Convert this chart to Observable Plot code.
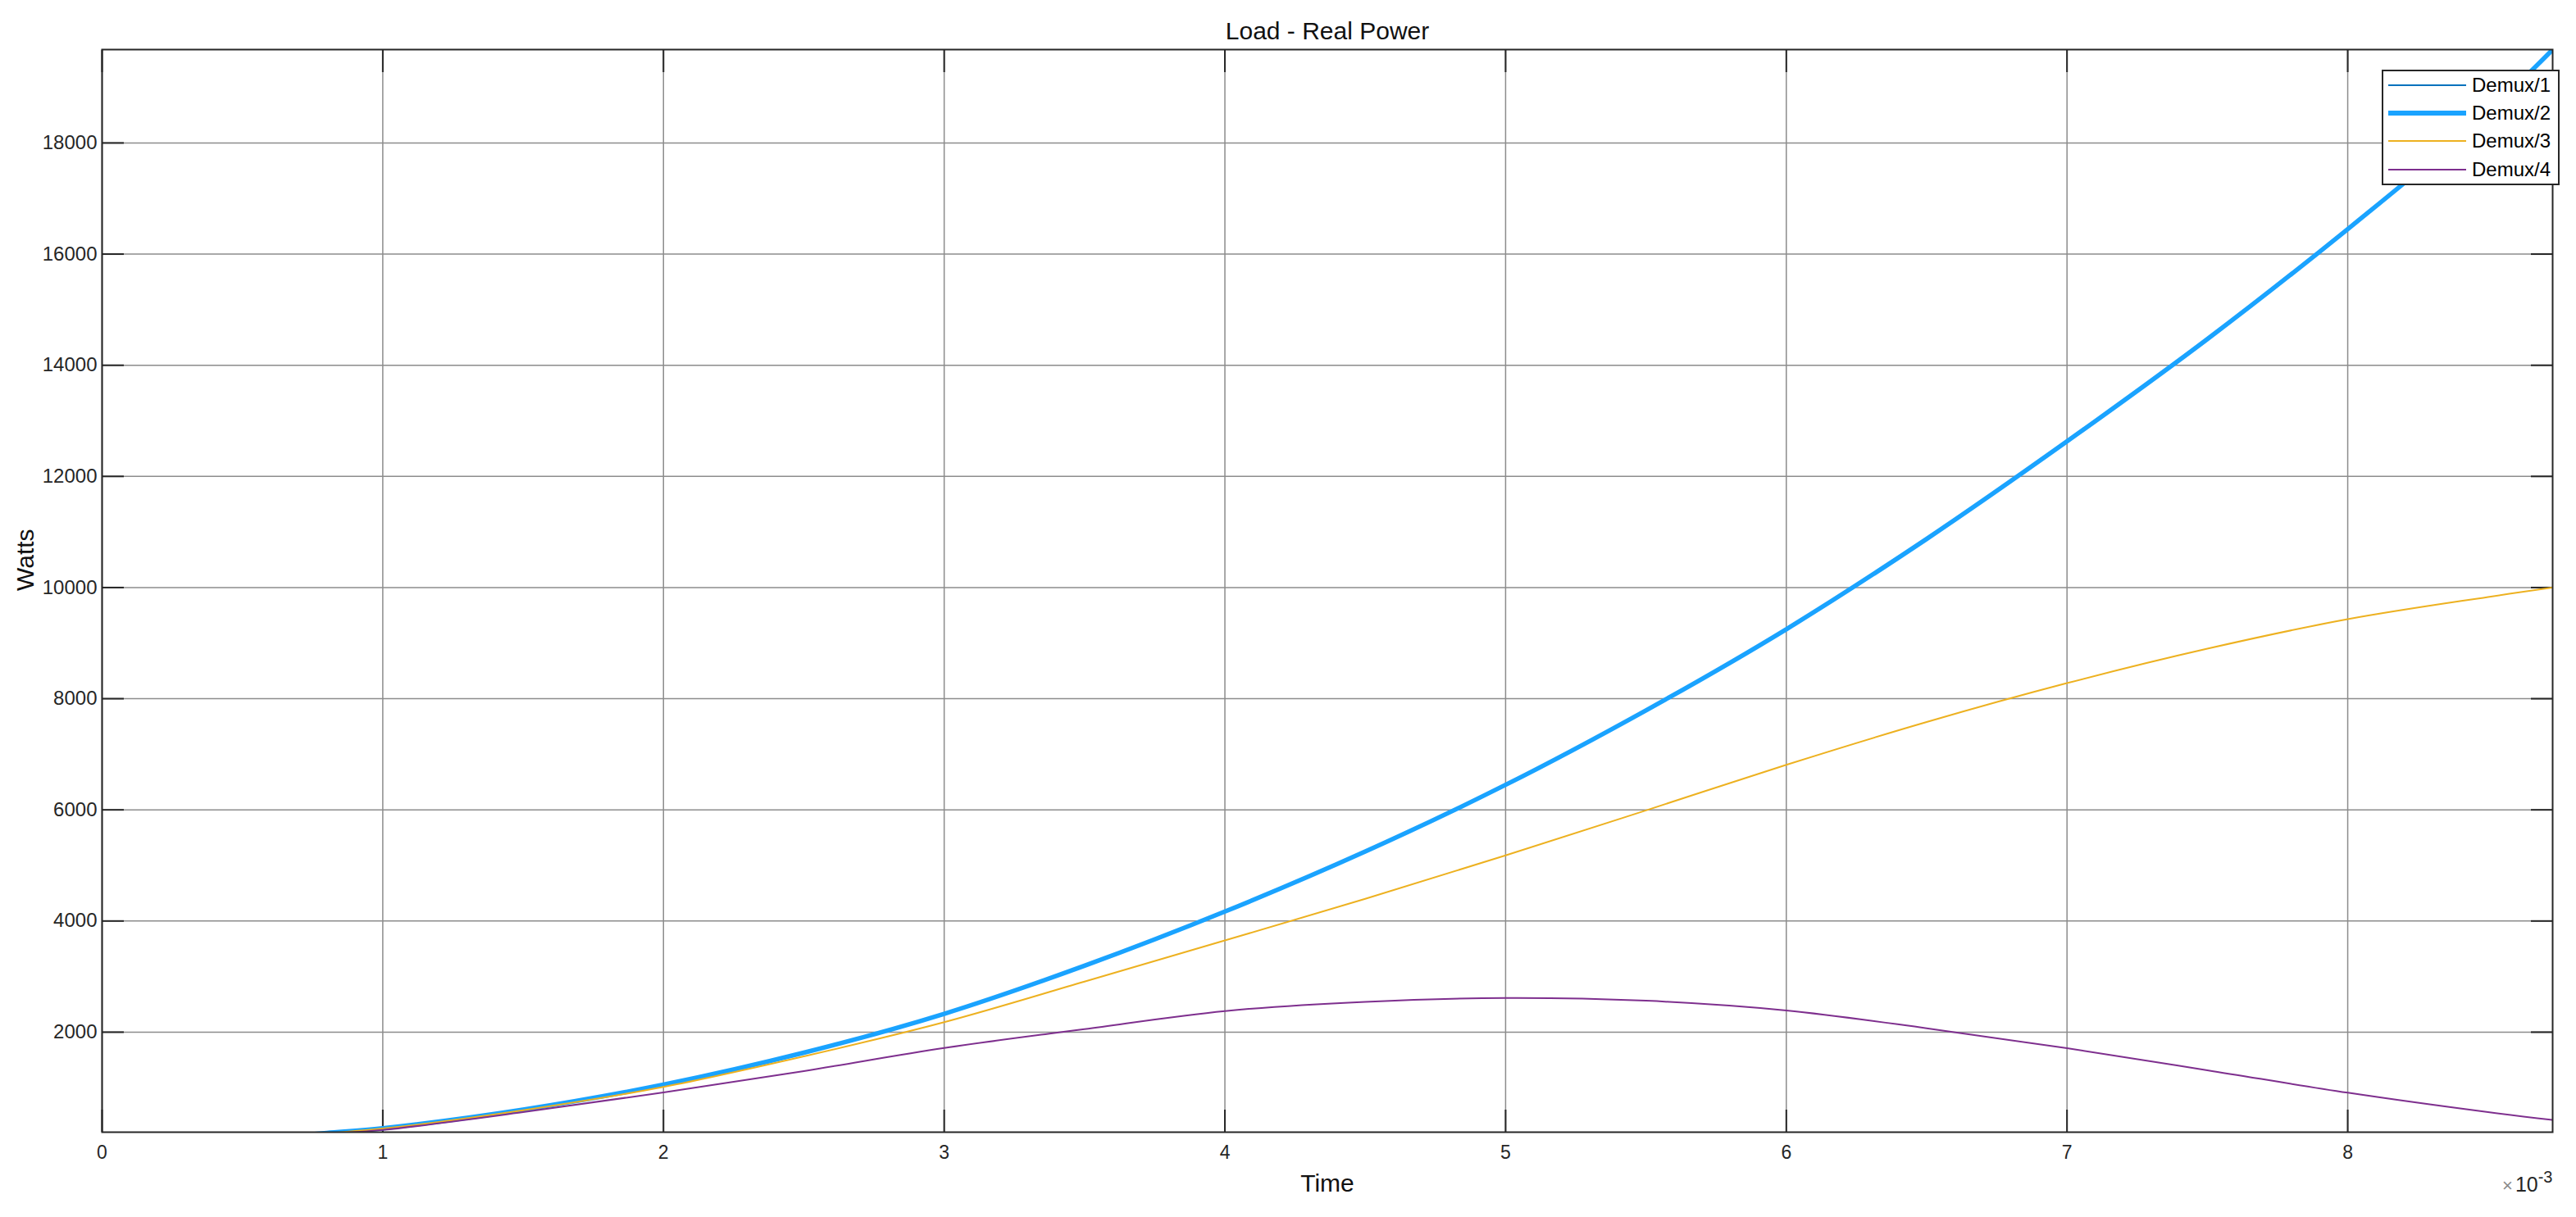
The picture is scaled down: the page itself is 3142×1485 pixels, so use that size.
<!DOCTYPE html>
<html>
<head>
<meta charset="utf-8">
<script src="https://cdn.jsdelivr.net/npm/d3@7"></script>
<script src="https://cdn.jsdelivr.net/npm/@observablehq/plot@0.6"></script>
<style>
  html, body { margin: 0; padding: 0; background: #fff; }
  #wrap { position: relative; width: 3142px; height: 1485px; font-family: "Liberation Sans", Arial, sans-serif; }
  #legend { position: absolute; left: 2905px; top: 85px; width: 217px; height: 141px; box-sizing: border-box;
            border: 2px solid #262626; background: #fff; }
  .row { position: absolute; left: 0; height: 34px; display: flex; align-items: center; }
  .swatch { margin-left: 6px; width: 95px; }
  .lbl { margin-left: 7px; font-size: 24px; color: #000; white-space: nowrap; }
</style>
</head>
<body>
<div id="wrap"><div id="legend"></div></div>
<script>
// ---- data (time in ms, i.e. axis units x10^-3 s; power in W) ----
const timeMs = [0.6, 0.8, 1, 1.5, 2, 2.5, 3, 3.5, 4, 4.5, 5, 5.5, 6, 6.5, 7, 7.5, 8, 8.5, 8.73];
const demux1 = [100, 185, 270, 605, 1055, 1630, 2330, 3195, 4170, 5250, 6450, 7790, 9250, 10875, 12630, 14470, 16450, 18560, 19680];
const demux2 = [100, 185, 270, 605, 1055, 1630, 2330, 3195, 4170, 5250, 6450, 7790, 9250, 10875, 12630, 14470, 16450, 18560, 19680];
const demux3 = [95, 180, 265, 595, 1015, 1565, 2180, 2910, 3650, 4400, 5180, 5990, 6810, 7580, 8280, 8900, 9430, 9830, 10000];
const demux4 = [90, 170, 240, 560, 915, 1300, 1715, 2055, 2380, 2545, 2615, 2565, 2390, 2070, 1710, 1315, 910, 560, 420];

const seriesNames = ["Demux/1", "Demux/2", "Demux/3", "Demux/4"];
const seriesColors = ["#0072BD", "#1AA3FF", "#EDB120", "#7E2F8E"];
const seriesWidths = [2, 5.5, 2, 2];

const xTicks = [0, 1, 2, 3, 4, 5, 6, 7, 8];
const yTicks = [2000, 4000, 6000, 8000, 10000, 12000, 14000, 16000, 18000];
const xDomain = [0, 8.73];
const yDomain = [200, 19680];

const titleText = "Load - Real Power";
const xLabel = "Time";
const yLabel = "Watts";
const xExpBase = "10";
const xExpPower = "-3";

// ---- build ----
const allValues = [demux1, demux2, demux3, demux4];
const seriesRows = allValues.map((vals, s) => vals.map((v, i) => ({t: timeMs[i], v, series: seriesNames[s]})));

const gridStyle = {stroke: "#8c8c8c", strokeOpacity: 1, strokeWidth: 1.5};
const tickLen = 27;
const tickStyle = {tickSize: tickLen, fill: null, label: null, stroke: "#262626", strokeWidth: 2};

const chart = Plot.plot({
  width: 3142,
  height: 1485,
  marginLeft: 124,
  marginRight: 29,
  marginTop: 60,
  marginBottom: 104,
  style: {fontFamily: '"Liberation Sans", Arial, sans-serif', fontSize: "24px", color: "#262626", background: "#fff"},
  x: {domain: xDomain, axis: null},
  y: {domain: yDomain, axis: null},
  marks: [
    Plot.gridX(xTicks, gridStyle),
    Plot.gridY(yTicks, gridStyle),
    // inward tick marks on all four sides (outward ticks shifted inside by their own length)
    Plot.axisX(xTicks, {anchor: "bottom", dy: -tickLen, ...tickStyle}),
    Plot.axisX(xTicks, {anchor: "top", dy: tickLen, ...tickStyle}),
    Plot.axisY(yTicks, {anchor: "left", dx: tickLen, ...tickStyle}),
    Plot.axisY(yTicks, {anchor: "right", dx: -tickLen, ...tickStyle}),
    Plot.axisX(xTicks, {anchor: "bottom", tickSize: 0, tickPadding: 16, label: null, fontSize: 23, fill: "#262626", tickFormat: d => String(d)}),
    Plot.axisY(yTicks, {anchor: "left", tickSize: 0, tickPadding: 6, label: null, fontSize: 24, fill: "#262626", tickFormat: d => String(d)}),
    ...seriesRows.map((rows, s) => Plot.line(rows, {
      x: "t", y: "v", stroke: seriesColors[s], strokeWidth: seriesWidths[s], curve: "catmull-rom", clip: true
    })),
    Plot.frame({stroke: "#262626", strokeWidth: 2}),
    Plot.text([titleText], {text: d => d, frameAnchor: "top", dy: -13, lineAnchor: "bottom", fontSize: 30, fill: "#111"}),
    Plot.text([xLabel], {text: d => d, frameAnchor: "bottom", dy: 72, lineAnchor: "bottom", fontSize: 30, fill: "#111"}),
    Plot.text([yLabel], {text: d => d, frameAnchor: "left", dx: -84, rotate: -90, lineAnchor: "bottom", fontSize: 30, fill: "#111"}),
    Plot.text([xExpBase], {text: d => d, frameAnchor: "bottom-right", dy: 72, textAnchor: "end", lineAnchor: "bottom", fontSize: 25, fill: "#262626"})
  ]
});
document.getElementById("wrap").prepend(chart);

// exponent label: "×10" with superscript "-3"
const expText = d3.select(chart).selectAll("text").filter(function() { return this.textContent === xExpBase; });
expText.text(null);
expText.append("tspan").attr("font-size", 22).attr("fill", "#8a8a8a").text("×");
expText.append("tspan").attr("dx", 3).text(xExpBase);
expText.append("tspan").attr("font-size", 20).attr("dy", -11).text(xExpPower);

// ---- legend ----
const legend = d3.select("#legend");
const rowCenters = [17, 51, 85, 120];
seriesNames.forEach((name, i) => {
  const row = legend.append("div").attr("class", "row").style("top", (rowCenters[i] - 17) + "px");
  row.append("div").attr("class", "swatch")
    .style("height", seriesWidths[i] + "px")
    .style("background", seriesColors[i]);
  row.append("div").attr("class", "lbl").text(name);
});
</script>
</body>
</html>
